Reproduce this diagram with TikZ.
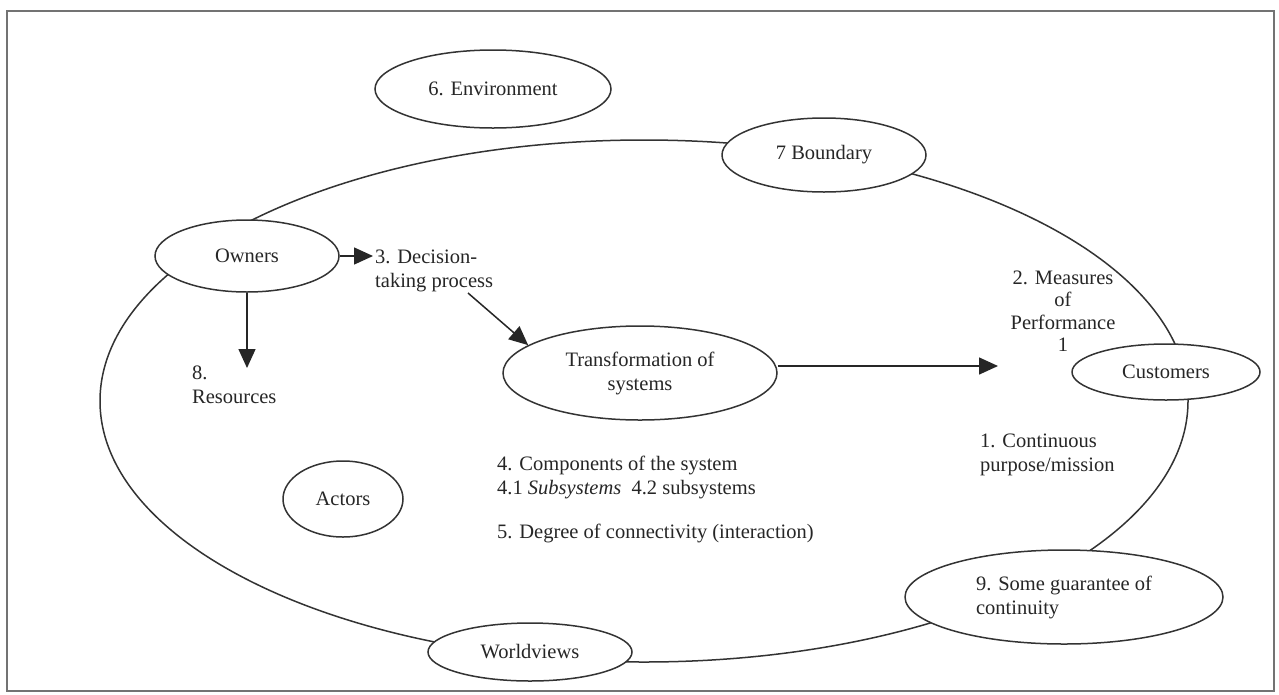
\documentclass[tikz,border=0pt]{standalone}
\usepackage{fontspec}
\setmainfont{Liberation Serif}
\usetikzlibrary{shapes.geometric,arrows.meta}

\begin{document}
\begin{tikzpicture}[x=1pt,y=-1pt,
  every node/.style={font=\fontsize{20.5}{24}\selectfont, text=black!85},
  bubble/.style={draw=black!80, line width=1.5pt, ellipse, fill=white, inner sep=0pt, align=center},
  label/.style={inner sep=0pt, align=left},
  arr/.style={draw=black!85, line width=1.5pt, -{Triangle[length=19pt,width=17pt]}}
]
% page and frame
\useasboundingbox (0,0) rectangle (1279,694);
\fill[white] (0,0) rectangle (1279,694);
\draw[black!55, line width=2pt] (7,11) rectangle (1274,691);

% the system boundary
\node[draw=black!80, line width=1.5pt, ellipse, minimum width=1088pt, minimum height=522pt, inner sep=0pt] (system) at (644,401) {};

% elements on and around the boundary
\node[bubble, minimum width=236pt, minimum height=78pt] (env) at (493,89) {6. Environment};
\node[bubble, minimum width=204pt, minimum height=74pt] (bound) at (824,155) {7 Boundary};
\node[bubble, minimum width=184pt, minimum height=72pt] (owners) at (247,256) {Owners};
\node[bubble, minimum width=274pt, minimum height=94pt] (trans) at (640,373) {Transformation of\\systems};
\node[bubble, minimum width=188pt, minimum height=56pt] (cust) at (1166,372) {Customers};
\node[bubble, minimum width=120pt, minimum height=76pt] (actors) at (343,499) {Actors};
\node[bubble, minimum width=318pt, minimum height=94pt, align=left] (guar) at (1064,597) {9. Some guarantee of\\continuity};
\node[bubble, minimum width=204pt, minimum height=58pt] (world) at (530,652) {Worldviews};

% free labels
\node[label, anchor=west] (dec) at (375,271) {3. Decision-\\taking process};
\node[label, anchor=west] (res) at (192,385) {8.\\Resources};
\node[label, align=center, font=\fontsize{20.5}{22.5}\selectfont] (meas) at (1063,311) {2. Measures\\of\\Performance\\1};
\node[label, anchor=west] (purp) at (980,455) {1. Continuous\\purpose/mission};
\node[label, anchor=west] (comp) at (497,477) {4. Components of the system\\4.1 \textit{Subsystems}\enspace 4.2 subsystems};
\node[label, anchor=west] (degree) at (497,533) {5. Degree of connectivity (interaction)};

% arrow ends
\coordinate (decin) at (373,256);
\coordinate (resin) at (247,368);
\coordinate (decout) at (468,293);
\coordinate (measin) at (998,366);

% connectors
\draw[arr] (owners.east |- decin) -- (decin);
\draw[arr] (owners.south) -- (resin);
\draw[arr] (decout) -- (trans.166);
\draw[arr] (trans.east |- measin) -- (measin);
\end{tikzpicture}
\end{document}
